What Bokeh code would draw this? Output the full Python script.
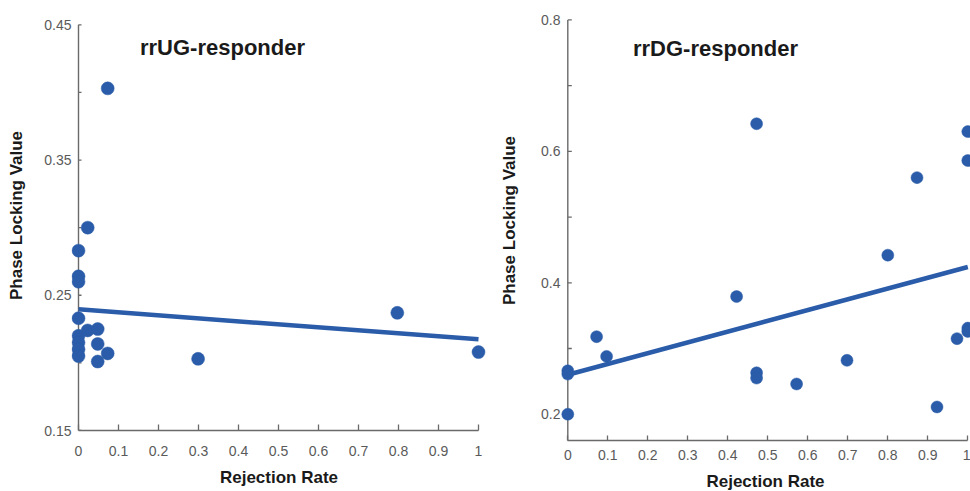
from bokeh.plotting import figure
from bokeh.models import LinearAxis, FixedTicker, Label, Range1d
from bokeh.layouts import row
from bokeh.embed import file_html
from bokeh.resources import INLINE

# ---------------- data ----------------
ug_rate = [0.073, 0.023, 0.0, 0.0, 0.0, 0.0, 0.0, 0.0, 0.0, 0.0,
           0.023, 0.048, 0.048, 0.048, 0.073, 0.299, 0.797, 1.0]
ug_plv = [0.403, 0.300, 0.283, 0.264, 0.260, 0.233, 0.220, 0.215, 0.210, 0.205,
          0.224, 0.225, 0.214, 0.201, 0.207, 0.203, 0.237, 0.208]
ug_fit_rate = [0.0, 1.0]
ug_fit_plv = [0.2396, 0.2174]

dg_rate = [0.472, 1.0, 1.0, 0.873, 0.80, 0.422, 0.072, 0.097, 0.0, 0.0,
           0.0, 0.472, 0.472, 0.572, 0.698, 0.923, 0.973, 1.0, 1.0]
dg_plv = [0.642, 0.630, 0.586, 0.560, 0.442, 0.379, 0.318, 0.288, 0.266, 0.261,
          0.200, 0.263, 0.255, 0.246, 0.282, 0.211, 0.315, 0.331, 0.326]
dg_fit_rate = [0.0, 1.0]
dg_fit_plv = [0.260, 0.424]

x_ticks = [0.0, 0.1, 0.2, 0.3, 0.4, 0.5, 0.6, 0.7, 0.8, 0.9, 1.0]
x_tick_labels = ["0", "0.1", "0.2", "0.3", "0.4", "0.5", "0.6", "0.7", "0.8", "0.9", "1"]
x_bounds = (0.0, 1.0)

ug_y_ticks = [0.15, 0.25, 0.35, 0.45]
ug_y_minor = [0.2, 0.3, 0.4]
ug_y_labels = ["0.15", "0.25", "0.35", "0.45"]
ug_y_bounds = (0.15, 0.45)

dg_y_ticks = [0.2, 0.4, 0.6, 0.8]
dg_y_minor = [0.3, 0.5, 0.7]
dg_y_labels = ["0.2", "0.4", "0.6", "0.8"]
dg_y_bounds = (0.16, 0.8)

titles = ["rrUG-responder", "rrDG-responder"]
x_label = "Rejection Rate"
y_label = "Phase Locking Value"

# ---------------- style ----------------
BLUE = "#2a5ca9"
AXIS = "#6a6a6a"
TICKTXT = "#5a5a5a"
DARK = "#1a1a1a"
FONT = "Liberation Sans"
XS = 400.0  # px per unit of rejection rate


def make_panel(rate, plv, fit_rate, fit_plv, yticks, yminor, ylabels, ybounds, title,
               fig_left, border_left, frame_w, border_right,
               axis_px, y_top_px, y_bot_px, height,
               ytick_in, xtick_in, xlab_standoff, ylab_standoff, xaxlab_standoff,
               dot_size, title_pos):
    ys = (y_bot_px - y_top_px) / (ybounds[1] - ybounds[0])
    frame_left = fig_left + border_left
    x0 = -(axis_px - frame_left) / XS
    x1 = x0 + frame_w / XS
    frame_h = int(round(y_bot_px))
    y1 = ybounds[1] + y_top_px / ys
    y0 = ybounds[0]

    def dx(px):
        return (px - axis_px) / XS

    def dy(py):
        return ybounds[1] - (py - y_top_px) / ys

    p = figure(frame_width=frame_w, frame_height=frame_h,
               min_border_left=border_left, min_border_right=border_right,
               min_border_top=0, min_border_bottom=height - frame_h,
               x_range=Range1d(x0, x1), y_range=Range1d(y0, y1),
               x_axis_location=None, y_axis_location=None,
               output_backend="svg", toolbar_location=None)
    p.grid.grid_line_color = None
    p.outline_line_color = None
    p.background_fill_color = "white"
    p.border_fill_color = "white"

    # y axis rule and inward ticks (under the dots)
    all_y = list(yticks) + list(yminor)
    p.segment(x0=[x_bounds[0]], y0=[ybounds[0]], x1=[x_bounds[0]], y1=[ybounds[1]],
              line_color=AXIS, line_width=1.4)
    p.segment(x0=[x_bounds[0]] * len(all_y), y0=all_y,
              x1=[x_bounds[0] + ytick_in / XS] * len(all_y), y1=all_y,
              line_color=AXIS, line_width=1.3)

    p.scatter(rate, plv, size=dot_size, fill_color=BLUE, line_color=BLUE, line_width=0.5)
    p.line(fit_rate, fit_plv, line_color=BLUE, line_width=4.5)

    yax = LinearAxis(bounds=(ybounds[0], y1),
                     ticker=FixedTicker(ticks=yticks, minor_ticks=[]),
                     major_label_overrides={float(t): l for t, l in zip(yticks, ylabels)},
                     axis_line_color=None, major_tick_line_color=None, minor_tick_line_color=None,
                     major_tick_in=0, major_tick_out=0,
                     major_label_standoff=0,
                     major_label_text_font=FONT, major_label_text_font_size="14px",
                     major_label_text_color=TICKTXT,
                     axis_label=y_label, axis_label_standoff=ylab_standoff,
                     axis_label_text_font=FONT, axis_label_text_font_style="bold",
                     axis_label_text_font_size="17px", axis_label_text_color=DARK)
    p.add_layout(yax, "left")

    xax = LinearAxis(bounds=x_bounds,
                     ticker=FixedTicker(ticks=x_ticks, minor_ticks=[]),
                     major_label_overrides={float(t): l for t, l in zip(x_ticks, x_tick_labels)},
                     axis_line_color=AXIS, axis_line_width=1.4,
                     major_tick_in=xtick_in, major_tick_out=0,
                     minor_tick_in=0, minor_tick_out=0,
                     major_tick_line_color=AXIS, major_tick_line_width=1.3,
                     major_label_standoff=xlab_standoff,
                     major_label_text_font=FONT, major_label_text_font_size="14px",
                     major_label_text_color=TICKTXT,
                     axis_label=x_label, axis_label_standoff=xaxlab_standoff,
                     axis_label_text_font=FONT, axis_label_text_font_style="bold",
                     axis_label_text_font_size="17px", axis_label_text_color=DARK)
    p.add_layout(xax, "below")

    p.add_layout(Label(x=dx(title_pos[0]), y=dy(title_pos[1]), text=title,
                       text_font=FONT, text_font_style="bold", text_font_size="22px",
                       text_color=DARK, text_align="center", text_baseline="alphabetic"))
    return p


H = 491
p1 = make_panel(ug_rate, ug_plv, ug_fit_rate, ug_fit_plv,
                ug_y_ticks, ug_y_minor, ug_y_labels, ug_y_bounds, titles[0],
                fig_left=0, border_left=71, frame_w=415, border_right=10,
                axis_px=78.0, y_top_px=24.3, y_bot_px=430.0, height=H,
                ytick_in=3, xtick_in=6, xlab_standoff=15, ylab_standoff=15, xaxlab_standoff=9,
                dot_size=13, title_pos=(222, 47))

p2 = make_panel(dg_rate, dg_plv, dg_fit_rate, dg_fit_plv,
                dg_y_ticks, dg_y_minor, dg_y_labels, dg_y_bounds, titles[1],
                fig_left=496, border_left=64, frame_w=410, border_right=0,
                axis_px=567.3, y_top_px=19.4, y_bot_px=440.0, height=H,
                ytick_in=4, xtick_in=5, xlab_standoff=9, ylab_standoff=19, xaxlab_standoff=9,
                dot_size=12, title_pos=(715, 48))

layout = row(p1, p2)
open("out.html", "w").write(file_html(layout, INLINE))
